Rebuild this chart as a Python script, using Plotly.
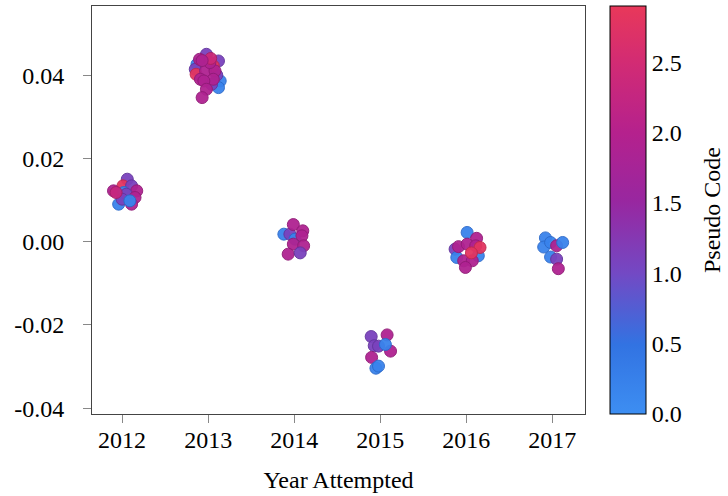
import plotly.graph_objects as go

# ---- data ----
year_2012 = [2012.06, 2012.01, 2012.11, 2011.90, 2012.17, 2012.02, 2012.05, 2012.15, 2011.96, 2012.11, 2012.00, 2012.09, 2011.93]
val_2012 = [0.0150, 0.0134, 0.0134, 0.0122, 0.0122, 0.0118, 0.0114, 0.0106, 0.0090, 0.0090, 0.0102, 0.0098, 0.0118]
code_2012 = [1.1, 2.8, 1.1, 1.9, 1.9, 0.2, 1.1, 1.9, 0.2, 1.9, 1.1, 0.2, 2.3]

year_2013 = [2012.87, 2013.14, 2013.12, 2012.98, 2013.12, 2012.85, 2013.10, 2013.04, 2012.90, 2013.06, 2012.86,
             2012.97, 2013.08, 2012.91, 2013.06, 2012.95, 2012.98, 2012.93, 2013.02, 2013.03, 2012.93]
val_2013 = [0.0426, 0.0386, 0.0370, 0.0450, 0.0434, 0.0414, 0.0400, 0.0378, 0.0438, 0.0422, 0.0402,
            0.0410, 0.0410, 0.0390, 0.0390, 0.0386, 0.0366, 0.0346, 0.0430, 0.0440, 0.0435]
code_2013 = [0.2, 0.2, 0.2, 1.1, 1.1, 1.1, 1.1, 1.1, 1.9, 2.8, 2.8,
             1.9, 1.9, 1.9, 1.9, 1.9, 1.9, 1.9, 1.9, 2.4, 1.9]

year_2014 = [2013.88, 2013.95, 2014.01, 2013.99, 2014.10, 2014.09, 2013.99, 2014.11, 2013.93, 2014.07]
val_2014 = [0.0018, 0.0018, 0.0006, 0.0041, 0.0026, 0.0014, -0.0006, -0.0010, -0.0030, -0.0027]
code_2014 = [0.2, 1.1, 0.2, 1.9, 1.9, 1.9, 1.9, 1.9, 1.9, 1.1]

year_2015 = [2014.895, 2014.93, 2014.98, 2015.08, 2015.12, 2015.06, 2014.90, 2014.95, 2014.98]
val_2015 = [-0.0228, -0.0250, -0.0251, -0.0224, -0.0263, -0.0247, -0.0278, -0.0304, -0.0299]
code_2015 = [1.1, 1.1, 1.1, 1.9, 1.9, 0.2, 1.9, 0.2, 0.2]

year_2016 = [2016.01, 2015.87, 2015.89, 2016.14, 2016.12, 2015.91, 2016.01, 2016.11, 2016.16, 2015.97, 2016.07, 2015.99, 2016.06]
val_2016 = [0.0022, -0.0018, -0.0038, -0.0034, 0.0008, -0.0012, -0.0006, -0.0010, -0.0014, -0.0046, -0.0046, -0.0062, -0.0027]
code_2016 = [0.2, 1.1, 0.2, 0.2, 1.9, 1.9, 1.9, 1.9, 2.8, 1.9, 1.9, 1.9, 2.8]

year_2017 = [2016.92, 2016.90, 2016.98, 2017.05, 2017.12, 2016.98, 2017.05, 2017.07]
val_2017 = [0.0009, -0.0013, -0.0002, -0.0010, -0.0002, -0.0037, -0.0042, -0.0065]
code_2017 = [0.2, 0.2, 0.2, 1.9, 0.2, 0.2, 1.1, 1.9]

x_ticks = [2012, 2013, 2014, 2015, 2016, 2017]
y_tickvals = [-0.04, -0.02, 0.0, 0.02, 0.04]
y_ticktext = ["-0.04", "-0.02", "0.00", "0.02", "0.04"]
cbar_ticks = [0.0, 0.5, 1.0, 1.5, 2.0, 2.5]

years = year_2012 + year_2013 + year_2014 + year_2015 + year_2016 + year_2017
vals = val_2012 + val_2013 + val_2014 + val_2015 + val_2016 + val_2017
codes = code_2012 + code_2013 + code_2014 + code_2015 + code_2016 + code_2017

cmin, cmax = 0.0, 2.9
fill_scale = [
    [0.0, "#3d8ef2"], [0.17, "#3273e2"], [0.345, "#7349c4"],
    [0.52, "#9827a0"], [0.69, "#b5218d"], [0.86, "#d22b74"], [1.0, "#e8385a"],
]
line_scale = [
    [0.0, "#2f74d0"], [0.17, "#285cc0"], [0.345, "#5d39a4"],
    [0.52, "#7c1f84"], [0.69, "#961a74"], [0.86, "#b0225f"], [1.0, "#c42c48"],
]

font_family = "Liberation Serif"

fig = go.Figure()
fig.add_trace(go.Scatter(
    x=years, y=vals, mode="markers",
    marker=dict(
        size=12, color=codes, colorscale=fill_scale, cmin=cmin, cmax=cmax,
        opacity=0.95,
        line=dict(width=1, color=codes, colorscale=line_scale, cmin=cmin, cmax=cmax),
        colorbar=dict(
            tickvals=cbar_ticks, ticktext=[f"{t:.1f}" for t in cbar_ticks],
            tickfont=dict(size=24, family=font_family, color="black"),
            thickness=36, len=1.0, lenmode="fraction", y=0.5, yanchor="middle",
            x=1.05, xanchor="left", xpad=0, ypad=0,
            outlinewidth=1, outlinecolor="black",
            ticks="",
        ),
        showscale=True,
    ),
    showlegend=False,
    hoverinfo="skip",
))

fig.add_annotation(
    text="Pseudo Code", xref="paper", yref="paper", x=1.2576, y=0.5,
    xanchor="center", yanchor="middle", textangle=-90, showarrow=False,
    font=dict(size=24, family=font_family, color="black"),
)

fig.update_layout(
    width=728, height=496,
    margin=dict(l=92, r=143, t=6, b=82),
    paper_bgcolor="white", plot_bgcolor="white",
    font=dict(family=font_family, size=24, color="black"),
    xaxis=dict(
        range=[2011.65, 2017.38], tickvals=x_ticks, ticktext=[str(t) for t in x_ticks],
        showgrid=False, zeroline=False, showline=True, linecolor="#444444", linewidth=1, mirror=True,
        ticks="outside", ticklen=8, tickcolor="#888888", ticklabelstandoff=-4,
        title=dict(text="Year Attempted", standoff=19, font=dict(size=24)),
        tickfont=dict(size=24),
    ),
    yaxis=dict(
        range=[-0.0414, 0.0566], tickvals=y_tickvals, ticktext=y_ticktext,
        showgrid=False, zeroline=False, showline=True, linecolor="#444444", linewidth=1, mirror=True,
        ticks="outside", ticklen=8, tickcolor="#888888", ticklabelstandoff=14,
        tickfont=dict(size=24),
    ),
)

fig.write_html("out.html", config={"displayModeBar": False},
               post_script="document.body.style.margin='0';")
